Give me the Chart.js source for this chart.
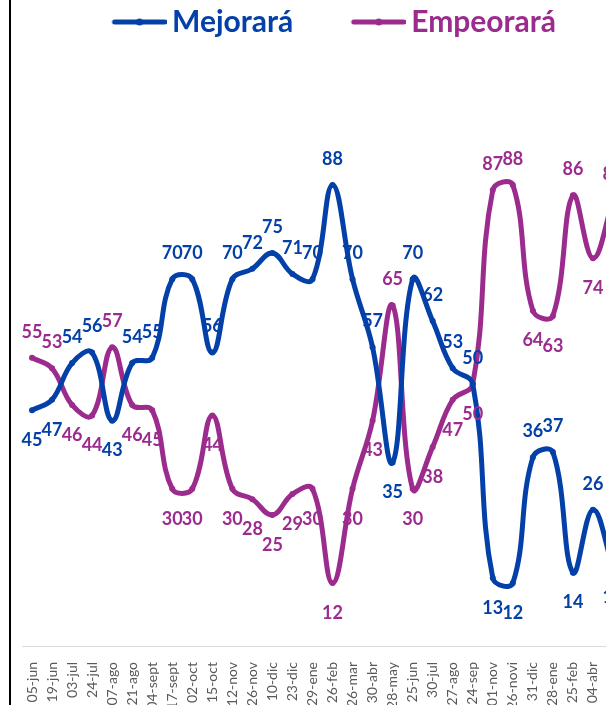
<!DOCTYPE html>
<html>
<head>
<meta charset="utf-8">
<script src="https://cdn.jsdelivr.net/npm/chart.js@4"></script>
<style>
html,body{margin:0;padding:0;background:#fff;overflow:hidden}
#wrap{position:relative;width:606px;height:705px;overflow:hidden}
#opinionChart{position:absolute;left:0;top:0;width:627px;height:705px}
#edge{position:absolute;left:9px;top:0;width:2px;height:705px;background:#000}
</style>
</head>
<body>
<div id="wrap">
<canvas id="opinionChart" width="627" height="705"></canvas>
<div id="edge"></div>
</div>
<script>

let fechas=["05-jun","19-jun","03-jul","24-jul","07-ago","21-ago","04-sept","17-sept","02-oct","15-oct","12-nov","26-nov","10-dic","23-dic","29-ene","26-feb","26-mar","30-abr","28-may","25-jun","30-jul","27-ago","24-sep","01-nov","26-novi","31-dic","28-ene","25-feb","04-abr","02-may"]

let mejorara=[45,47,54,56,43,54,55,70,70,56,70,72,75,71,70,88,70,57,35,70,62,53,50,13,12,36,37,14,26,15]

let empeorara=[55,53,46,44,57,46,45,30,30,44,30,28,25,29,30,12,30,43,65,30,38,47,50,87,88,64,63,86,74,85]

// puntos donde la etiqueta azul va abajo y la morada arriba
let invertidos=[0,1,4,18,23,24,27,29]

let azul="#0340a8"
let morado="#9b2c8e"

function marcador(color){

let c=document.createElement("canvas")
c.width=115
c.height=10
let g=c.getContext("2d")
g.strokeStyle=color
g.lineWidth=5
g.lineCap="round"
g.beginPath()
g.moveTo(63,5)
g.lineTo(113,5)
g.stroke()
g.fillStyle=color
g.beginPath()
g.arc(88,5,3.5,0,Math.PI*2)
g.fill()
return c

}

let etiquetas={

id:"etiquetas",

afterDatasetsDraw(chart){

let ctx=chart.ctx
ctx.save()
ctx.font="bold 18px Lato"
ctx.textAlign="center"
ctx.textBaseline="middle"

chart.data.datasets.forEach((ds,d)=>{

let meta=chart.getDatasetMeta(d)
ctx.fillStyle=ds.borderColor

meta.data.forEach((p,i)=>{

let arriba=invertidos.includes(i) ? d==1 : d==0
ctx.fillText(ds.data[i],p.x,p.y+(arriba ? -26 : 30))

})

})

ctx.restore()

}

}

let margenLeyenda={

id:"margenLeyenda",

beforeInit(chart){

let fit=chart.legend.fit
chart.legend.fit=function(){
fit.bind(chart.legend)()
this.height=122
// corre la leyenda un poco a la izquierda
this.lineWidths[0]+=28
}

}

}

new Chart(document.getElementById("opinionChart"),{

type:"line",

data:{

labels:fechas,

datasets:[{

label:"Mejorará",
data:mejorara,
borderColor:azul,
backgroundColor:azul,
borderWidth:5,
pointRadius:3,
pointBackgroundColor:azul,
pointBorderWidth:0,
tension:0.4

},{

label:"Empeorará",
data:empeorara,
borderColor:morado,
backgroundColor:morado,
borderWidth:5,
pointRadius:3,
pointBackgroundColor:morado,
pointBorderWidth:0,
tension:0.4

}]

},

options:{

responsive:false,
animation:false,

layout:{padding:{left:22,right:4,top:0,bottom:0}},

plugins:{

legend:{

position:"top",
align:"center",

labels:{

usePointStyle:true,
pointStyleWidth:96,
boxHeight:10,
padding:7,
font:{family:"Lato",size:30,weight:"bold"},

generateLabels(chart){

return chart.data.datasets.map((ds,i)=>({

text:ds.label,
fontColor:ds.borderColor,
pointStyle:marcador(ds.borderColor),
datasetIndex:i,
lineWidth:0,
strokeStyle:"rgba(0,0,0,0)",
fillStyle:"rgba(0,0,0,0)"

}))

}

}

},

tooltip:{enabled:false}

},

scales:{

x:{

offset:true,
grid:{display:false},
border:{display:true,color:"#d9d9d9",width:1},

ticks:{

autoSkip:false,
minRotation:90,
maxRotation:90,
padding:8,
color:"#595959",
font:{family:"Lato",size:14}

},

afterFit(scale){
scale.height=59
scale.paddingLeft=0
scale.paddingRight=0
}

},

y:{

display:false,
min:0,
max:100

}

}

},

plugins:[etiquetas,margenLeyenda]

})

</script>
</body>
</html>
